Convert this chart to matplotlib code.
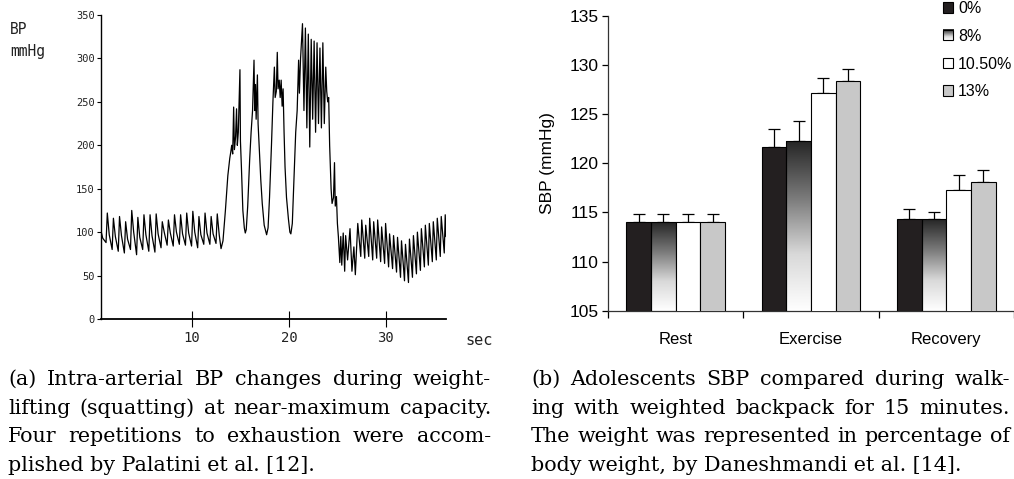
import numpy as np
import matplotlib
matplotlib.use("Agg")
import matplotlib.pyplot as plt
from matplotlib.patches import Patch, Rectangle
from matplotlib.colors import LinearSegmentedColormap
from matplotlib.legend_handler import HandlerBase
from matplotlib.image import BboxImage
from matplotlib.transforms import Bbox, TransformedBbox

# ---- (a) intra-arterial BP trace, vertices (sec, mmHg)
rest_t = [0.65, 0.80, 1.14, 1.27, 1.47, 1.77, 1.90, 2.10, 2.40, 2.53, 2.73, 3.03, 3.16, 3.36,
          3.66, 3.79, 3.99, 4.29, 4.42, 4.62, 4.92, 5.05, 5.25, 5.55, 5.68, 5.88, 6.18, 6.31,
          6.51, 6.81, 6.94, 7.14, 7.44, 7.57, 7.77, 8.07, 8.20, 8.40, 8.70, 8.83, 9.03, 9.33,
          9.46, 9.66, 9.96, 10.09, 10.29, 10.59, 10.72, 10.92, 11.22, 11.35, 11.55, 11.85,
          11.98, 12.18, 12.48, 12.61, 12.81, 13.00]
rest_bp = [100, 93, 88, 122, 97, 80, 116, 95, 78, 118, 96, 76, 112, 92, 80, 125, 100, 74, 117,
           94, 80, 120, 97, 78, 120, 96, 77, 121, 98, 82, 112, 100, 85, 114, 99, 84, 120, 100,
           86, 120, 98, 85, 122, 99, 84, 124, 100, 82, 118, 97, 86, 122, 99, 86, 118, 98, 87,
           121, 97, 81]

lift_t = [13.20, 13.45, 13.70, 13.90, 14.00, 14.10, 14.20, 14.30, 14.38, 14.50, 14.60, 14.68,
          14.78, 14.95, 15.00, 15.10, 15.25, 15.40, 15.50, 15.60, 15.75, 15.95, 16.10, 16.25,
          16.40, 16.47, 16.55, 16.62, 16.75, 16.82, 16.95, 17.10, 17.25, 17.45, 17.70, 17.85,
          18.00, 18.20, 18.35, 18.50, 18.58, 18.70, 18.80, 18.88, 19.00, 19.10, 19.20, 19.30,
          19.40, 19.50, 19.60, 19.75, 19.95, 20.10, 20.20, 20.35, 20.50, 20.70, 20.85, 21.00,
          21.08, 21.20, 21.40, 21.55, 21.70, 21.85, 22.00, 22.15, 22.30, 22.45, 22.60, 22.75,
          22.90, 23.05, 23.20, 23.35, 23.50, 23.65, 23.80, 23.90, 24.00, 24.10, 24.20, 24.35,
          24.45, 24.60, 24.70, 24.78, 24.90, 25.00, 25.10, 25.25]
lift_bp = [90, 125, 165, 185, 192, 200, 190, 244, 195, 210, 242, 200, 215, 287, 205, 175, 125,
           105, 99, 103, 130, 183, 215, 240, 298, 240, 270, 230, 281, 225, 194, 160, 133, 108,
           97, 105, 140, 200, 250, 290, 255, 262, 307, 265, 275, 255, 275, 245, 265, 215, 175,
           140, 115, 100, 98, 110, 156, 215, 240, 298, 260, 300, 340, 240, 335, 220, 328, 198,
           322, 230, 320, 215, 318, 225, 312, 220, 318, 225, 290, 262, 250, 255, 200, 150, 133,
           140, 180, 130, 141, 110, 95, 65]

recov_t = [25.35, 25.45, 25.60, 25.75, 25.85, 26.05, 26.30, 26.50, 26.70, 26.85, 27.10, 27.41,
           27.51, 27.82, 27.92, 28.23, 28.33, 28.64, 28.74, 29.05, 29.15, 29.46, 29.56, 29.87,
           29.97, 30.28, 30.38, 30.69, 30.79, 31.10, 31.20, 31.51, 31.61, 31.92, 32.02, 32.33,
           32.43, 32.74, 32.84, 33.15, 33.25, 33.56, 33.66, 33.97, 34.07, 34.38, 34.48, 34.79,
           34.89, 35.20, 35.30, 35.61, 35.71, 36.02, 36.12, 36.20]
recov_bp = [95, 62, 99, 55, 96, 68, 104, 55, 83, 51, 110, 72, 114, 70, 108, 72, 116, 68, 112,
            70, 114, 66, 106, 64, 110, 60, 98, 58, 96, 54, 94, 48, 90, 44, 86, 42, 92, 48, 96,
            52, 100, 56, 104, 60, 108, 62, 110, 66, 112, 68, 116, 72, 118, 76, 120, 95]

bp_yticks = [0, 50, 100, 150, 200, 250, 300, 350]
bp_xticks = [10, 20, 30]

# ---- (b) SBP by backpack load
phases = ["Rest", "Exercise", "Recovery"]
loads = ["0%", "8%", "10.50%", "13%"]
sbp_mean = {
    "0%": [114.0, 121.7, 114.3],
    "8%": [114.0, 122.3, 114.3],
    "10.50%": [114.0, 127.2, 117.3],
    "13%": [114.0, 128.4, 118.1],
}
sbp_err = {
    "0%": [0.85, 1.8, 1.1],
    "8%": [0.85, 2.0, 0.7],
    "10.50%": [0.85, 1.5, 1.5],
    "13%": [0.85, 1.2, 1.2],
}
sbp_yticks = [105, 110, 115, 120, 125, 130, 135]

caption_a = ["(a) Intra-arterial BP changes during weight-",
             "lifting (squatting) at near-maximum capacity.",
             "Four repetitions to exhaustion were accom-",
             "plished by Palatini et al. [12]."]
caption_b = ["(b) Adolescents SBP compared during walk-",
             "ing with weighted backpack for 15 minutes.",
             "The weight was represented in percentage of",
             "body weight, by Daneshmandi et al. [14]."]

W, H = 1014, 479
fig = plt.figure(figsize=(W / 100, H / 100), dpi=100)


def px_box(l, t, r, b):
    return [l / W, 1 - b / H, (r - l) / W, (b - t) / H]


mono = ["DejaVu Sans Mono"]
sans = ["Liberation Sans", "DejaVu Sans"]
serif = ["DejaVu Serif"]

# ---------------- left: BP trace
ax_bp = fig.add_axes(px_box(101, 15, 446, 319))
trace_t = rest_t + lift_t + recov_t
trace_bp = rest_bp + lift_bp + recov_bp
ax_bp.plot(trace_t, trace_bp, color="black", lw=0.9)
ax_bp.set_xlim(0.62, 36.2)
ax_bp.set_ylim(0, 350)
for s in ("top", "right"):
    ax_bp.spines[s].set_visible(False)
ax_bp.spines["left"].set_linewidth(1.0)
ax_bp.spines["bottom"].set_linewidth(1.3)
ax_bp.set_yticks(bp_yticks)
ax_bp.set_xticks(bp_xticks)
ax_bp.tick_params(axis="y", direction="out", length=3, width=0.8, pad=1.5, labelsize=7.5)
ax_bp.tick_params(axis="x", direction="inout", length=11, width=0.8, pad=3, labelsize=10)
for lab in ax_bp.get_xticklabels() + ax_bp.get_yticklabels():
    lab.set_family(mono)
    lab.set_color("#222222")
fig.text(10 / W, 1 - 22 / H, "BP\nmmHg", family=mono, fontsize=10.5, va="top", ha="left",
         linespacing=1.55, color="#222222")
fig.text(465 / W, 1 - 345 / H, "sec", family=mono, fontsize=11, va="baseline", ha="left",
         color="#222222")

# ---------------- right: SBP bars
ax_s = fig.add_axes(px_box(608, 16, 1014, 310.7))
colors = {"0%": "#231f20", "8%": "none", "10.50%": "#ffffff", "13%": "#c8c8c8"}
bw = 0.182
xc = np.arange(len(phases)) + 0.5
grad = LinearSegmentedColormap.from_list("g8", ["#262626", "#7a7a7a", "#d9d9d9", "#ffffff"])
grad_data = np.linspace(0, 1, 256).reshape(-1, 1)
for i, load in enumerate(loads):
    xs = xc + (i - 1.5) * bw
    bars = ax_s.bar(xs, sbp_mean[load], width=bw, color=colors[load], edgecolor="black",
                    linewidth=0.8, zorder=3)
    ax_s.errorbar(xs, sbp_mean[load], yerr=[np.zeros(len(phases)), sbp_err[load]], fmt="none",
                  ecolor="black", elinewidth=0.9, capsize=4, capthick=0.9, zorder=2)
    if load == "8%":
        for b in bars:
            x0 = b.get_x()
            im = ax_s.imshow(grad_data, cmap=grad, aspect="auto", origin="upper",
                             extent=(x0, x0 + b.get_width(), 105, b.get_height()), zorder=2.5)
            im.set_clip_path(b)
ax_s.set_xlim(0, 2.985)
ax_s.set_ylim(105, 135)
for s in ("top", "right"):
    ax_s.spines[s].set_visible(False)
for s in ("left", "bottom"):
    ax_s.spines[s].set_linewidth(0.9)
    ax_s.spines[s].set_color("#333333")
ax_s.set_yticks(sbp_yticks)
ax_s.set_xticks([0, 1, 2, 3])
ax_s.set_xticklabels([])
ax_s.set_xticks(xc, minor=True)
ax_s.set_xticklabels(phases, minor=True)
ax_s.tick_params(axis="y", direction="out", length=4, width=0.9, pad=3, labelsize=12.5)
ax_s.tick_params(axis="x", which="major", direction="out", length=5, width=0.9)
ax_s.tick_params(axis="x", which="minor", length=0, pad=15, labelsize=12)
for lab in ax_s.get_yticklabels() + ax_s.get_xticklabels(minor=True):
    lab.set_family(sans)
ax_s.set_ylabel("SBP (mmHg)", family=sans, fontsize=12.5, labelpad=10)


class GradientHandler(HandlerBase):
    def create_artists(self, legend, orig_handle, xdescent, ydescent, width, height,
                       fontsize, trans):
        box = Bbox.from_bounds(-xdescent, -ydescent, width, height)
        img = BboxImage(TransformedBbox(box, trans), cmap=grad, interpolation="bilinear")
        img.set_data(grad_data)
        edge = Rectangle((-xdescent, -ydescent), width, height, facecolor="none",
                         edgecolor="black", linewidth=0.8, transform=trans)
        return [img, edge]


handles = []
for load in loads:
    handles.append(Patch(facecolor=colors[load] if load != "8%" else "#888888",
                         edgecolor="black", linewidth=0.8))
leg = ax_s.legend(handles, loads, loc="upper left", bbox_to_anchor=(943 / W, 1 - 1 / H),
                  bbox_transform=fig.transFigure, frameon=False, borderpad=0,
                  borderaxespad=0, handlelength=0.65, handleheight=0.65, handletextpad=0.3,
                  labelspacing=0.8, prop={"family": sans, "size": 11.5},
                  handler_map={handles[1]: GradientHandler()})

# ---------------- captions (justified like the source layout)
fig.canvas.draw()
renderer = fig.canvas.get_renderer()

# fit the serif size so the short last line of (a) spans what the source shows
probe = fig.text(0, 0, caption_a[-1], family=serif, fontsize=16)
cap_size = 16 * 308 / probe.get_window_extent(renderer).width
probe.remove()


def justified(lines, x0, x1, baselines, size):
    for k, (line, yb) in enumerate(zip(lines, baselines)):
        if k == len(lines) - 1:
            fig.text(x0 / W, 1 - yb / H, line, family=serif, fontsize=size, va="baseline")
            continue
        words = line.split(" ")
        texts = [fig.text(0, 1 - yb / H, w, family=serif, fontsize=size, va="baseline")
                 for w in words]
        widths = [t.get_window_extent(renderer).width for t in texts]
        gap = (x1 - x0 - sum(widths)) / (len(words) - 1)
        x = x0
        for t, w in zip(texts, widths):
            t.set_x(x / W)
            x += w + gap


cap_base = [385, 414, 442.5, 471]
justified(caption_a, 8, 491, cap_base, cap_size)
justified(caption_b, 531, 1010, cap_base, cap_size)

fig.savefig("out.png", dpi=100)
